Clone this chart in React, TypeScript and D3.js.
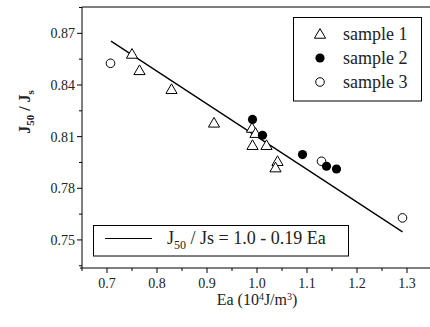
import * as d3 from 'd3';

// values
const sample1Ea = [0.75, 0.765, 0.829, 0.914, 0.99, 0.997, 0.991, 1.019, 1.041, 1.037];
const sample1J = [0.858, 0.8485, 0.8375, 0.818, 0.815, 0.812, 0.805, 0.805, 0.7957, 0.792];
const sample2Ea = [0.991, 1.011, 1.091, 1.139, 1.159];
const sample2J = [0.820, 0.8108, 0.7996, 0.7928, 0.7912];
const sample3Ea = [0.707, 1.129, 1.291];
const sample3J = [0.8526, 0.7957, 0.7628];
const fitEa = [0.708, 1.291];
const fitJ = [0.8655, 0.7547];

const xTicks = [0.7, 0.8, 0.9, 1.0, 1.1, 1.2, 1.3];
const yTicks = [0.75, 0.78, 0.81, 0.84, 0.87];
const legendLabels = ['sample 1', 'sample 2', 'sample 3'];

const W = 430;
const H = 327;
const margin = { top: 7, right: -2, bottom: 59, left: 82 };
const font = 'Liberation Serif';

export default function App() {
  const x = d3.scaleLinear().domain([0.65, 1.35]).range([margin.left, W - margin.right]);
  const y = d3.scaleLinear().domain([0.7337, 0.8853]).range([H - margin.bottom, margin.top]);
  const x0 = margin.left;
  const y0 = H - margin.bottom;

  const xMinor = d3.range(0.65, 1.36, 0.05).map(v => +v.toFixed(2)).filter(v => !xTicks.some(t => Math.abs(t - v) < 1e-6));
  const yMinor = d3.range(0.735, 0.885, 0.015).map(v => +v.toFixed(3)).filter(v => !yTicks.some(t => Math.abs(t - v) < 1e-6));

  const tri = d3.symbol(d3.symbolTriangle, 54)();
  const line = d3.line<number>().x((d, i) => x(fitEa[i])).y(d => y(d));

  return (
    <svg width={W} height={H} style={{ position: 'absolute', left: 0, top: 0, background: '#fff' }}>
      {/* frame */}
      <line x1={x0} x2={W} y1={margin.top} y2={margin.top} stroke="#000" strokeWidth={1} />
      <line x1={x0} x2={x0} y1={margin.top} y2={y0} stroke="#000" strokeWidth={1} />
      <line x1={x0 - 2} x2={W} y1={y0} y2={y0} stroke="#000" strokeWidth={1} />

      {/* y axis */}
      {yTicks.map(t => (
        <g key={t}>
          <line x1={x0 - 5} x2={x0} y1={y(t)} y2={y(t)} stroke="#000" />
          <text x={x0 - 7} y={y(t) + 5} fontSize={14} fontFamily={font} textAnchor="end" fill="#222">{t.toFixed(2)}</text>
        </g>
      ))}
      {yMinor.map(t => (
        <line key={t} x1={x0 - 3} x2={x0} y1={y(t)} y2={y(t)} stroke="#000" />
      ))}

      {/* x axis */}
      {xTicks.map(t => (
        <g key={t}>
          <line x1={x(t)} x2={x(t)} y1={y0} y2={y0 + 5} stroke="#000" />
          <text x={x(t)} y={y0 + 20} fontSize={14} fontFamily={font} textAnchor="middle" fill="#222">{t.toFixed(1)}</text>
        </g>
      ))}
      {xMinor.map(t => (
        <line key={t} x1={x(t)} x2={x(t)} y1={y0} y2={y0 + 3} stroke="#000" />
      ))}

      {/* axis titles */}
      <text x={257} y={305} fontSize={16} fontFamily={font} textAnchor="middle" fill="#222">
        Ea (10<tspan dy={-5} fontSize={10}>4</tspan><tspan dy={5}>J/m</tspan><tspan dy={-5} fontSize={10}>3</tspan><tspan dy={5}>)</tspan>
      </text>
      <text transform="translate(30,112) rotate(-90)" fontSize={16} fontFamily={font} fontWeight="bold" textAnchor="middle" fill="#222">
        J<tspan dy={4} fontSize={11}>50</tspan><tspan dy={-4}> / J</tspan><tspan dy={4} fontSize={11}>s</tspan>
      </text>

      {/* fit line */}
      <path d={line(fitJ) ?? ''} fill="none" stroke="#000" strokeWidth={1.3} />

      {/* points */}
      {sample1Ea.map((e, i) => (
        <path key={'a' + i} d={tri ?? ''} transform={`translate(${x(e)},${y(sample1J[i]) + 1})`} fill="#fff" stroke="#000" strokeWidth={1} />
      ))}
      {sample3Ea.map((e, i) => (
        <circle key={'c' + i} cx={x(e)} cy={y(sample3J[i])} r={4.3} fill="#fff" stroke="#000" strokeWidth={1} />
      ))}
      {sample2Ea.map((e, i) => (
        <circle key={'b' + i} cx={x(e)} cy={y(sample2J[i])} r={4.6} fill="#000" />
      ))}

      {/* symbol legend */}
      <rect x={293.5} y={17.5} width={128} height={83.5} fill="#fff" stroke="#000" strokeWidth={1} />
      {legendLabels.map((lab, i) => {
        const cy = 34 + i * 24;
        return (
          <g key={lab}>
            {i === 0 && <path d={tri ?? ''} transform={`translate(320,${cy + 1})`} fill="#fff" stroke="#000" />}
            {i === 1 && <circle cx={320} cy={cy} r={4.6} fill="#000" />}
            {i === 2 && <circle cx={320} cy={cy} r={4.3} fill="#fff" stroke="#000" />}
            <text x={343} y={cy + 6} fontSize={18} fontFamily={font} fill="#222">{lab}</text>
          </g>
        );
      })}

      {/* fit legend */}
      <rect x={93.5} y={225.5} width={255} height={30.5} fill="#fff" stroke="#000" strokeWidth={1} />
      <line x1={105} x2={152} y1={238.5} y2={238.5} stroke="#000" strokeWidth={1} />
      <text x={167} y={244} fontSize={18} fontFamily={font} fill="#222">
        J<tspan dy={5} fontSize={12}>50</tspan><tspan dy={-5}> / Js = 1.0 - 0.19 Ea</tspan>
      </text>
    </svg>
  );
}
